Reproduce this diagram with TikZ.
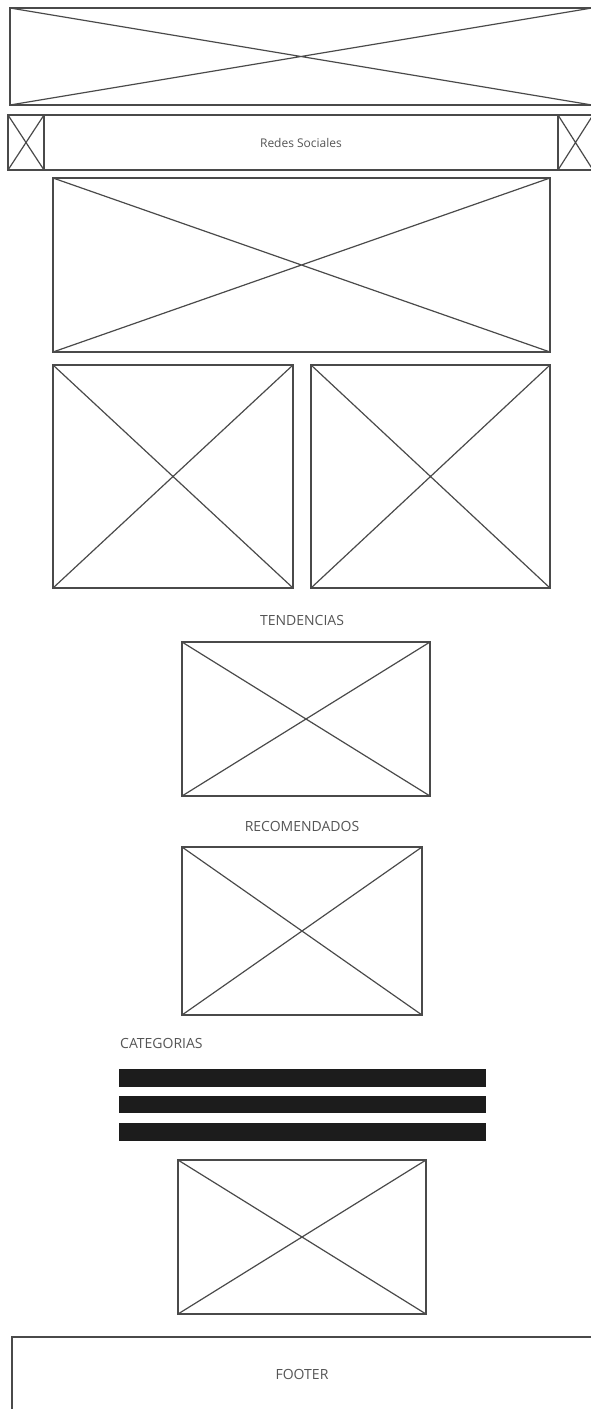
\documentclass[tikz,border=0pt]{standalone}
\usepackage{fontspec}
\setmainfont{Open Sans}
\usetikzlibrary{fit}
\definecolor{linegray}{HTML}{4A4A4A}
\definecolor{textgray}{HTML}{555555}
\definecolor{barblack}{HTML}{1C1C1C}
\tikzset{
  ph/.style={draw=linegray, line width=1.4pt, inner sep=0pt,
    path picture={\draw[linegray, line width=1.2pt]
      (path picture bounding box.north west) -- (path picture bounding box.south east)
      (path picture bounding box.south west) -- (path picture bounding box.north east);}},
  frame/.style={draw=linegray, line width=1.4pt, inner sep=0pt},
  catbar/.style={fill=barblack, draw=none, inner sep=0pt},
  heading/.style={text=textgray, font=\fontsize{14}{16}\selectfont, inner sep=0pt},
  small/.style={text=textgray, font=\fontsize{12}{14}\selectfont, inner sep=0pt}
}
\begin{document}
\begin{tikzpicture}[x=1pt, y=-1pt]
\useasboundingbox[fill=white] (0,0) rectangle (591,1409);
% top banner
\node[ph, fit={(10,8) (592,105)}] (banner) {};
% social bar
\node[frame, fit={(8,115) (593,170)}] (social) {};
\node[ph, fit={(8,115) (44,170)}] (iconL) {};
\node[ph, fit={(558,115) (593,170)}] (iconR) {};
\node[small] (socialtxt) at (301,143) {Redes Sociales};
% hero
\node[ph, fit={(53,178) (550,352)}] (hero) {};
% two boxes
\node[ph, fit={(53,365) (293,588)}] (boxL) {};
\node[ph, fit={(311,365) (550,588)}] (boxR) {};
% tendencias
\node[heading] (tend) at (302,620) {TENDENCIAS};
\node[ph, fit={(182,642) (430,796)}] (tendbox) {};
% recomendados
\node[heading] (recom) at (302,826) {RECOMENDADOS};
\node[ph, fit={(182,847) (422,1015)}] (recbox) {};
% categorias
\node[heading, anchor=west] (cat) at (120,1043) {CATEGORIAS};
\node[catbar, fit={(119,1069) (486,1087)}] (bar1) {};
\node[catbar, fit={(119,1096) (486,1113)}] (bar2) {};
\node[catbar, fit={(119,1123) (486,1141)}] (bar3) {};
\node[ph, fit={(178,1160) (426,1314)}] (catbox) {};
% footer
\node[frame, fit={(12,1337) (593,1420)}] (footer) {};
\node[heading] (foottxt) at (302,1374) {FOOTER};
\end{tikzpicture}
\end{document}
